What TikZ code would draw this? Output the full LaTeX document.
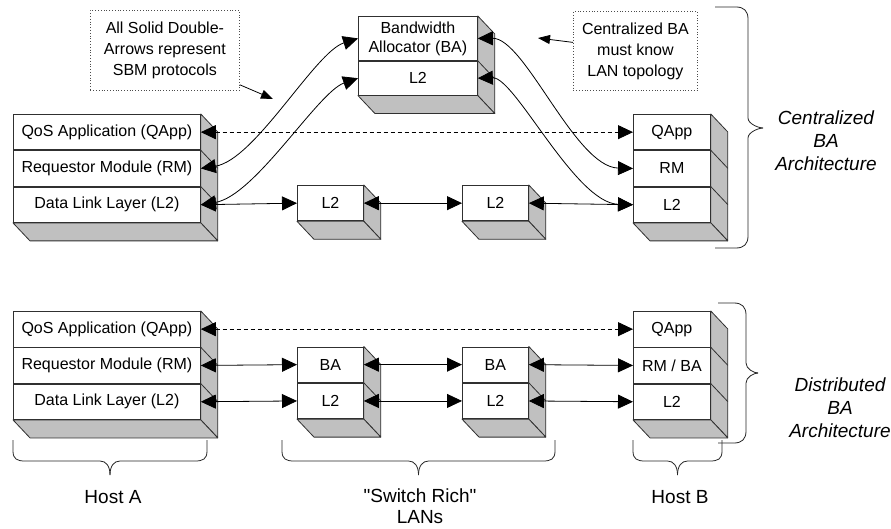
\documentclass[tikz,border=0pt]{standalone}
\usepackage{fontspec}
\setmainfont{Liberation Sans}
\usetikzlibrary{arrows.meta,backgrounds,calc}

\definecolor{shade}{HTML}{C0C0C0}
\definecolor{ink}{HTML}{303030}

% plain font instance without the TeX quote mapping, for straight quotes
\font\plainquotefont="Liberation Sans" at 19pt
\newcommand\straightquote{{\plainquotefont"}}

% right and bottom faces of a stack of layers (top node, bottom node)
\newcommand\boxdepth[2]{%
  \begin{pgfonlayer}{background}
    \draw[face] (#1.north east) -- ++(17,18) -- ($(#2.south east)+(17,18)$) -- (#2.south east) -- cycle;
    \draw[face] (#2.south west) -- (#2.south east) -- ++(17,18) -- ($(#2.south west)+(17,18)$) -- cycle;
  \end{pgfonlayer}}
% slanted edge at the top right corner of one layer
\newcommand\rowedge[1]{%
  \begin{pgfonlayer}{background}
    \draw[face] (#1.north east) -- ++(17,18);
  \end{pgfonlayer}}
% downward curly brace: left x, centre x, right x, top y
\newcommand\downbrace[4]{%
  \draw[brace] (#1,#4) -- (#1,{#4+11}) .. controls (#1,{#4+19}) and ({#1+4},{#4+21}) .. ({#1+12},{#4+21})
    -- ({#2-10},{#4+21}) .. controls ({#2-4},{#4+21}) and (#2,{#4+26}) .. (#2,{#4+35});
  \draw[brace] (#3,#4) -- (#3,{#4+11}) .. controls (#3,{#4+19}) and ({#3-4},{#4+21}) .. ({#3-12},{#4+21})
    -- ({#2+10},{#4+21}) .. controls ({#2+4},{#4+21}) and (#2,{#4+26}) .. (#2,{#4+35});}
% rightward curly brace: end x, spine x, tip x, top y, tip y, bottom y
\newcommand\sidebrace[6]{%
  \draw[brace] (#1,#4) -- ({#2-12},#4) .. controls ({#2-4},#4) and (#2,{#4+4}) .. (#2,{#4+12})
    -- (#2,{#5-10}) .. controls (#2,{#5-4}) and ({#3-4},#5) .. (#3,#5);
  \draw[brace] (#1,#6) -- ({#2-12},#6) .. controls ({#2-4},#6) and (#2,{#6-4}) .. (#2,{#6-12})
    -- (#2,{#5+10}) .. controls (#2,{#5+4}) and ({#3-4},#5) .. (#3,#5);}

\begin{document}
\begin{tikzpicture}[x=1pt,y=-1pt,
  every node/.style={font=\fontsize{16}{19}\selectfont},
  layer/.style={draw=ink, fill=white, line width=0.8pt, inner sep=0pt,
    anchor=north west, minimum height=35.5pt, align=center},
  face/.style={draw=ink, fill=shade, line width=0.8pt, line join=round},
  brace/.style={draw=black!85, line width=0.8pt},
  dbl/.style={{Triangle[length=15pt,width=14pt]}-{Triangle[length=15pt,width=14pt]}, line width=0.8pt},
  dashdbl/.style={dbl, dash pattern=on 4pt off 3pt},
  pointer/.style={-{Triangle[length=12pt,width=9pt]}, line width=0.8pt},
  callout/.style={draw=black!70, dotted, line width=0.8pt, align=center, inner sep=0pt,
    anchor=north west, font=\fontsize{16}{21}\selectfont},
  sidelabel/.style={align=center, font=\fontsize{19}{23}\selectfont\itshape},
  hostlabel/.style={align=center, font=\fontsize{19}{21}\selectfont}]

\useasboundingbox (0,0) rectangle (891,529);

% ---------- centralized BA architecture ----------
\node[layer, minimum width=187pt] (aq) at (13,114) {QoS Application (QApp)};
\node[layer, minimum width=187pt] (ar) at (aq.south west) {Requestor Module (RM)};
\node[layer, minimum width=187pt] (al) at (ar.south west) {Data Link Layer (L2)};
\boxdepth{aq}{al}\rowedge{ar}\rowedge{al}

\node[layer, minimum width=77pt] (bq) at (633,114) {QApp};
\node[layer, minimum width=77pt] (br) at (bq.south west) {RM};
\node[layer, minimum width=77pt] (bl) at (br.south west) {L2};
\boxdepth{bq}{bl}\rowedge{br}\rowedge{bl}

\node[layer, minimum width=66pt] (m1) at (297,185) {L2};
\boxdepth{m1}{m1}
\node[layer, minimum width=66pt] (m2) at (462,185) {L2};
\boxdepth{m2}{m2}

\node[layer, minimum width=119pt, minimum height=44pt] (ba) at (358,16) {Bandwidth\\Allocator (BA)};
\node[layer, minimum width=119pt, minimum height=34pt] (bal) at (ba.south west) {L2};
\boxdepth{ba}{bal}\rowedge{bal}

\draw[dashdbl] (aq.east) -- (bq.west);
\draw[dbl] (al.east) -- (m1.west);
\draw[dbl] (m1.east) -- (m2.west);
\draw[dbl] (m2.east) -- (bl.west);
\draw[dbl] (ar.east) .. controls (255,160) and (315,52) .. (ba.west);
\draw[dbl] (al.east) .. controls (255,196) and (318,92) .. (bal.west);
\draw[dbl] (ba.east) .. controls (525,38) and (575,167) .. (br.west);
\draw[dbl] (bal.east) .. controls (515,77) and (575,203) .. (bl.west);

% notes
\node[callout, minimum width=149pt, minimum height=80pt] (n1) at (90,10)
  {All Solid Double-\\Arrows represent\\SBM protocols};
\coordinate (n1tip) at (273,99);
\draw[pointer] ($(n1.south east)+(0,-6)$) -- (n1tip);

\node[callout, minimum width=124pt, minimum height=79pt] (n2) at (573,11)
  {Centralized BA\\must know\\LAN topology};
\coordinate (n2tip) at (538,38);
\draw[pointer] ($(n2.west)+(0,-8.5)$) -- (n2tip);

\sidebrace{715}{748}{763}{7}{128}{248}
\node[sidelabel] (cen) at (826,141) {Centralized\\BA\\Architecture};

% ---------- distributed BA architecture ----------
\node[layer, minimum width=187pt] (cq) at (13,311) {QoS Application (QApp)};
\node[layer, minimum width=187pt] (cr) at (cq.south west) {Requestor Module (RM)};
\node[layer, minimum width=187pt] (cl) at (cr.south west) {Data Link Layer (L2)};
\boxdepth{cq}{cl}\rowedge{cr}\rowedge{cl}

\node[layer, minimum width=77pt] (dq) at (633,311) {QApp};
\node[layer, minimum width=77pt] (dr) at (dq.south west) {RM / BA};
\node[layer, minimum width=77pt] (dl) at (dr.south west) {L2};
\boxdepth{dq}{dl}\rowedge{dr}\rowedge{dl}

\node[layer, minimum width=66pt] (s1b) at (297,346.5) {BA};
\node[layer, minimum width=66pt] (s1l) at (s1b.south west) {L2};
\boxdepth{s1b}{s1l}\rowedge{s1l}
\node[layer, minimum width=66pt] (s2b) at (462,346.5) {BA};
\node[layer, minimum width=66pt] (s2l) at (s2b.south west) {L2};
\boxdepth{s2b}{s2l}\rowedge{s2l}

\draw[dashdbl] (cq.east) -- (dq.west);
\draw[dbl] (cr.east) -- (s1b.west);
\draw[dbl] (s1b.east) -- (s2b.west);
\draw[dbl] (s2b.east) -- (dr.west);
\draw[dbl] (cl.east) -- (s1l.west);
\draw[dbl] (s1l.east) -- (s2l.west);
\draw[dbl] (s2l.east) -- (dl.west);

\sidebrace{718}{746}{758}{303}{373}{443}
\node[sidelabel] (dis) at (840,408) {Distributed\\BA\\Architecture};

% ---------- hosts and LANs ----------
\downbrace{13}{110}{207}{440}
\downbrace{282}{418.5}{555}{440}
\downbrace{633}{677.5}{722}{440}
\node[hostlabel] (ha) at (113,497) {Host A};
\node[hostlabel] (sw) at (420,506) {\straightquote Switch Rich\straightquote\\LANs};
\node[hostlabel] (hb) at (680,497) {Host B};
\end{tikzpicture}
\end{document}
